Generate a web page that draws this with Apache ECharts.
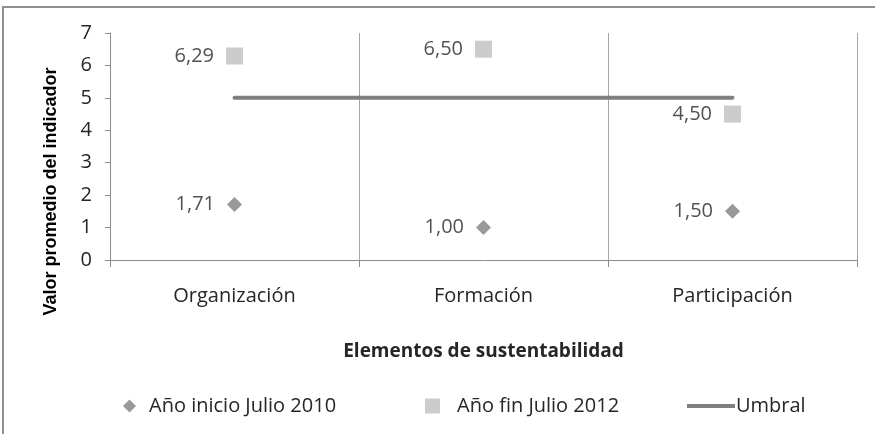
<!DOCTYPE html>
<html>
<head>
<meta charset="utf-8">
<script src="https://cdn.jsdelivr.net/npm/echarts@6/dist/echarts.min.js"></script>
<style>
  html, body { margin: 0; padding: 0; background: #fff; }
  #chart { width: 875px; height: 434px; }
</style>
</head>
<body>
<div id="chart"></div>
<script>
// data
var categories = ['Organización', 'Formación', 'Participación'];
var inicio2010 = [1.71, 1.00, 1.50];
var fin2012 = [6.29, 6.50, 4.50];
var umbral = [5, 5, 5];
var yTicks = [0, 1, 2, 3, 4, 5, 6, 7];

var txt = '#262626';
var axisGray = '#8c8c8c';
var fs = 20;

function comma(p) {
  return p.value.toFixed(2).replace('.', ',');
}

var chart = echarts.init(document.getElementById('chart'));

var option = {
  animation: false,
  textStyle: { fontFamily: 'Open Sans' },
  graphic: [{
    type: 'rect',
    shape: { x: 3, y: 7, width: 900, height: 500 },
    style: { fill: 'none', stroke: '#8f8f8f', lineWidth: 2 }
  }],
  grid: { left: 110, right: 18, top: 33, bottom: 174 },
  xAxis: {
    type: 'category',
    data: categories,
    boundaryGap: true,
    name: 'Elementos de sustentabilidad',
    nameLocation: 'middle',
    nameGap: 82,
    nameTextStyle: { fontSize: 19, fontWeight: 'bold', color: txt },
    axisLine: { lineStyle: { color: axisGray, width: 1 } },
    axisTick: { show: true, length: 7, lineStyle: { color: axisGray } },
    axisLabel: { fontSize: fs, color: txt, margin: 26 },
    splitLine: { show: true, lineStyle: { color: '#a6a6a6', width: 1 } }
  },
  yAxis: {
    type: 'value',
    min: yTicks[0],
    max: yTicks[yTicks.length - 1],
    interval: 1,
    name: 'Valor promedio del indicador',
    nameLocation: 'middle',
    nameGap: 50,
    nameTextStyle: {
      fontSize: 18, fontWeight: 'bold', color: '#000', fontFamily: 'Liberation Sans',
      padding: [0, 90, 0, 0]
    },
    axisLine: { show: true, lineStyle: { color: axisGray, width: 1 } },
    axisTick: { show: true, length: 5, lineStyle: { color: axisGray } },
    axisLabel: { fontSize: fs, color: txt, margin: 18 },
    splitLine: { show: false }
  },
  legend: [
    {
      data: ['Año inicio Julio 2010'],
      icon: 'diamond',
      itemWidth: 13, itemHeight: 13,
      left: 118, top: 391,
      textStyle: { fontSize: fs, color: txt, padding: [0, 0, 0, 8] }
    },
    {
      data: ['Año fin Julio 2012'],
      icon: 'rect',
      itemWidth: 15, itemHeight: 15,
      left: 420, top: 391,
      textStyle: { fontSize: fs, color: txt, padding: [0, 0, 0, 12] }
    },
    {
      data: ['Umbral'],
      icon: 'rect',
      itemWidth: 48, itemHeight: 4,
      left: 682, top: 391,
      textStyle: { fontSize: fs, color: txt, padding: [0, 0, 0, -4] }
    }
  ],
  series: [
    {
      name: 'Año inicio Julio 2010',
      type: 'scatter',
      data: inicio2010,
      symbol: 'diamond',
      symbolSize: 15,
      itemStyle: { color: '#7f7f7f' },
      label: { show: true, position: 'left', distance: 12, fontSize: fs, color: txt, formatter: comma }
    },
    {
      name: 'Año fin Julio 2012',
      type: 'scatter',
      data: fin2012,
      symbol: 'rect',
      symbolSize: 17,
      itemStyle: { color: '#bfbfbf' },
      label: { show: true, position: 'left', distance: 12, fontSize: fs, color: txt, formatter: comma }
    },
    {
      name: 'Umbral',
      type: 'line',
      data: umbral,
      symbol: 'none',
      itemStyle: { color: '#7f7f7f' },
      lineStyle: { color: '#7f7f7f', width: 4, cap: 'round' }
    }
  ]
};

chart.setOption(option);
</script>
</body>
</html>
